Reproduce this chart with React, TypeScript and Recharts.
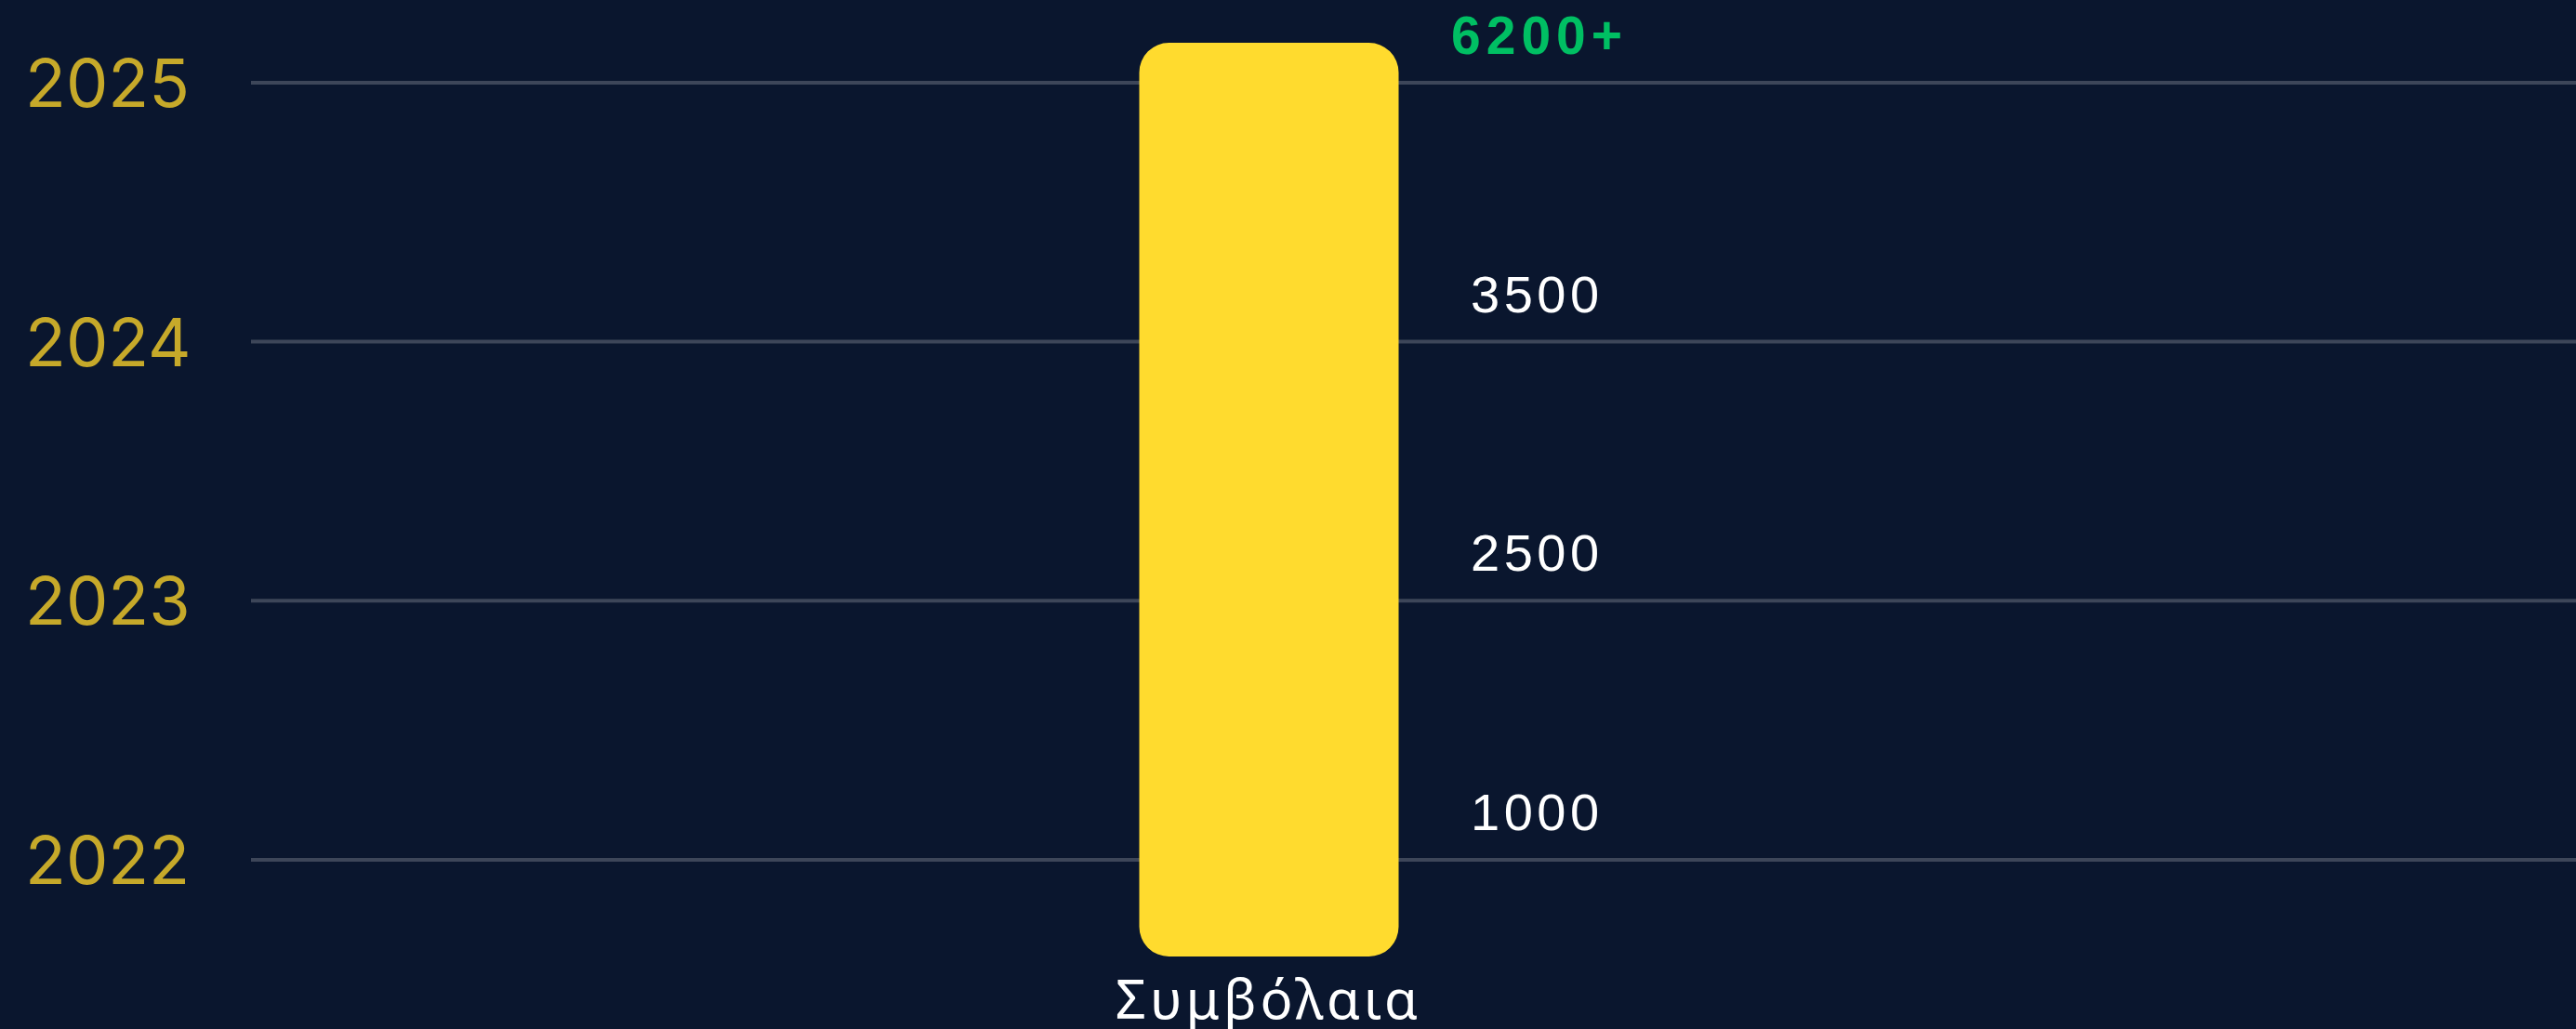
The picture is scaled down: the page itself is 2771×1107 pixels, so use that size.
import React from "react";
import { ComposedChart, Bar, XAxis, YAxis, CartesianGrid, ReferenceLine } from "recharts";

const categories = ["Συμβόλαια"];
const barRange: [number, number] = [2021.627, 2025.154];
const years = [2022, 2023, 2024, 2025];
const yearLabels = ["2022", "2023", "2024", "2025"];
const valueLabels = ["1000", "2500", "3500", "6200+"];
const highlighted = [false, false, false, true];
const yDomain: [number, number] = [2021.627, 2025.319];

const data = categories.map((c) => ({ name: c, range: barRange }));

const BG = "#0A162E";
const GOLD = "#C6A92A";
const GRID = "#3D4659";
const BAR = "#FFDB2E";
const GREEN = "#00BF63";

const YTick = (props: any) => {
  const idx = years.indexOf(props.payload.value);
  return (
    <text x={27} y={props.y} dy={26} fill={GOLD} fontSize={72} fontFamily="Inter" textAnchor="start">
      {idx >= 0 ? yearLabels[idx] : props.payload.value}
    </text>
  );
};

const XTick = (props: any) => (
  <text x={props.x} y={props.y} dy={59} fill="#FFFFFF" fontSize={58} fontFamily="Noto Sans" textAnchor="middle" letterSpacing={4}>
    {props.payload.value}
  </text>
);

const makeLabel = (i: number) => (props: any) => {
  const vb = props.viewBox || {};
  const y = vb.y;
  if (highlighted[i]) {
    return (
      <text x={1561} y={y} dy={-31} fill={GREEN} fontSize={57} fontWeight={700} fontFamily="Liberation Sans" textAnchor="start" letterSpacing={6}>
        {valueLabels[i]}
      </text>
    );
  }
  return (
    <text x={1582} y={y} dy={-32} fill="#FFFFFF" fontSize={56} fontFamily="Liberation Sans" textAnchor="start" letterSpacing={4.5}>
      {valueLabels[i]}
    </text>
  );
};

export default function App() {
  return (
    <div style={{ position: "fixed", left: 0, top: 0, width: 2771, height: 1107, background: BG }}>
      <ComposedChart width={2771} height={1107} data={data} margin={{ top: 0, right: 0, bottom: 0, left: 0 }}>
        <CartesianGrid vertical={false} stroke={GRID} strokeWidth={4} syncWithTicks />
        <XAxis
          dataKey="name"
          type="category"
          height={78}
          axisLine={false}
          tickLine={false}
          padding={{ left: 894.5, right: 1206.5 }}
          tick={<XTick />}
          interval={0}
        />
        <YAxis
          type="number"
          domain={yDomain}
          ticks={years}
          allowDataOverflow
          width={270}
          axisLine={false}
          tickLine={false}
          tick={<YTick />}
        />
        <Bar dataKey="range" fill={BAR} barSize={279} radius={32} isAnimationActive={false} />
        {years.map((yr, i) => (
          <ReferenceLine key={yr} y={yr} stroke="none" label={makeLabel(i)} />
        ))}
      </ComposedChart>
    </div>
  );
}
